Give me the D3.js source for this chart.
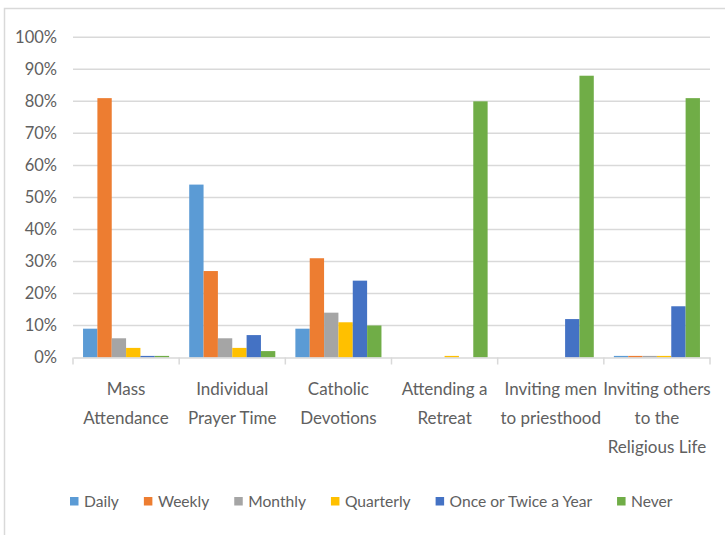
<!DOCTYPE html>
<html><head><meta charset="utf-8">
<script src="https://cdn.jsdelivr.net/npm/d3@7"></script>
<style>
html,body{margin:0;padding:0;background:#fff;}
text{font-family:Lato,"Open Sans",sans-serif;fill:#606060;}
</style></head>
<body>
<svg id="chart" width="725" height="535"></svg>
<script>
const categories = ["Mass Attendance","Individual Prayer Time","Catholic Devotions","Attending a Retreat","Inviting men to priesthood","Inviting others to the Religious Life"];
const categoryLines = [["Mass","Attendance"],["Individual","Prayer Time"],["Catholic","Devotions"],["Attending a","Retreat"],["Inviting men","to priesthood"],["Inviting others","to the","Religious Life"]];
const seriesNames = ["Daily","Weekly","Monthly","Quarterly","Once or Twice a Year","Never"];
const daily     = [9, 54, 9, 0, 0, 0.5];
const weekly    = [81, 27, 31, 0, 0, 0.5];
const monthly   = [6, 6, 14, 0, 0, 0.5];
const quarterly = [3, 3, 11, 0.5, 0, 0.5];
const onceTwice = [0.5, 7, 24, 0, 12, 16];
const never     = [0.5, 2, 10, 80, 88, 81];
const yTicks = [0,10,20,30,40,50,60,70,80,90,100];
const colors = ["#5B9BD5","#ED7D31","#A5A5A5","#FFC000","#4472C4","#70AD47"];

const seriesValues = [daily, weekly, monthly, quarterly, onceTwice, never];
const svg = d3.select("#chart");

// outer border
svg.append("path").attr("d","M4.5,535 L4.5,8.5 L725,8.5")
  .attr("fill","none").attr("stroke","#d9d9d9").attr("stroke-width",1.5);

const x0 = d3.scaleBand().domain(categories).range([73,710]).paddingInner(0).paddingOuter(0);
const x1 = d3.scaleBand().domain(seriesNames).range([0, x0.bandwidth()]).paddingOuter(0.7).paddingInner(0);
const y = d3.scaleLinear().domain([0,100]).range([357.5,37.3]);

// gridlines
svg.append("g").selectAll("line").data(yTicks.filter(d=>d>0)).join("line")
  .attr("x1",73).attr("x2",710).attr("y1",d=>y(d)).attr("y2",d=>y(d))
  .attr("stroke","#d9d9d9").attr("stroke-width",1.5);

// y labels
svg.append("g").selectAll("text").data(yTicks).join("text")
  .attr("x",57).attr("y",d=>y(d)).attr("dy","0.35em").attr("text-anchor","end")
  .style("font-size","16.5px").text(d=>d+"%");

// bars
const groups = svg.append("g").selectAll("g").data(categories).join("g")
  .attr("transform",d=>`translate(${x0(d)},0)`);
groups.selectAll("rect").data((c,i)=>seriesNames.map((s,j)=>({s, j, v:seriesValues[j][i]})))
  .join("rect")
  .attr("x",d=>x1(d.s)).attr("width",x1.bandwidth())
  .attr("y",d=>y(d.v)).attr("height",d=>y(0)-y(d.v))
  .attr("fill",d=>colors[d.j]);

// x axis line with ticks
const xAxis = d3.axisBottom(x0).tickSize(0).tickFormat("");
const ax = svg.append("g").attr("transform",`translate(0,${y(0)})`).call(xAxis);
ax.select(".domain").attr("stroke","#d9d9d9").attr("stroke-width",1.5);
const bounds = categories.map(c=>x0(c)).concat([x0.range()[1]]);
ax.selectAll("line.bound").data(bounds).join("line").attr("class","bound")
  .attr("x1",d=>d).attr("x2",d=>d).attr("y1",0).attr("y2",7)
  .attr("stroke","#d9d9d9").attr("stroke-width",1.5);

// category labels
const lab = svg.append("g").selectAll("text").data(categories).join("text")
  .attr("text-anchor","middle").style("font-size","17px")
  .attr("transform",d=>`translate(${x0(d)+x0.bandwidth()/2},0)`);
lab.selectAll("tspan").data((d,i)=>categoryLines[i]).join("tspan")
  .attr("x",0).attr("y",(d,k)=>389+k*29).attr("dy","0.35em").text(d=>d);

// legend
const leg = svg.append("g");
let lx = 70;
seriesNames.forEach((s,j)=>{
  leg.append("rect").attr("x",lx).attr("y",497).attr("width",8.5).attr("height",8.5).attr("fill",colors[j]);
  const t = leg.append("text").attr("x",lx+14).attr("y",502).attr("dy","0.35em")
    .style("font-size","15.6px").text(s);
  lx += 14 + t.node().getComputedTextLength() + 25;
});
</script>
</body></html>
